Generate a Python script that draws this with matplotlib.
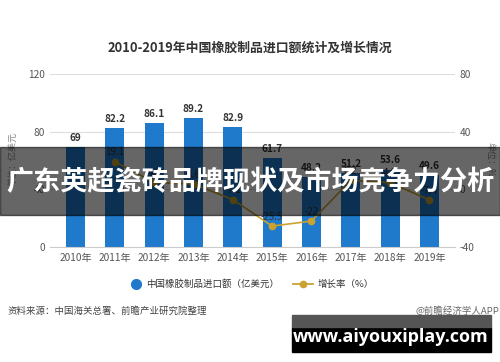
import matplotlib
matplotlib.use("Agg")
import matplotlib.pyplot as plt
from matplotlib.patches import Rectangle

plt.rcParams['font.family'] = ['Noto Sans CJK SC', 'DejaVu Sans']
plt.rcParams['axes.unicode_minus'] = False

years = ["2010年", "2011年", "2012年", "2013年", "2014年", "2015年", "2016年", "2017年", "2018年", "2019年"]
imports = [69, 82.2, 86.1, 89.2, 82.9, 61.7, 48.2, 51.2, 53.6, 49.6]
growth_years = years[1:]
growth = [19.1, 4.8, 3.6, -7.1, -25.5, -22, 6.2, 4.6, -7.4]
growth_labels = ["19.1", "4.8", "3.6", "-7.1", "-25.5", "-22", "6.2", "4.6", "-7.4"]

title = "2010-2019年中国橡胶制品进口额统计及增长情况"
banner = "广东英超瓷砖品牌现状及市场竞争力分析"

bar_color = "#1f7acc"
line_color = "#c9a231"
text_gray = "#555555"

fig = plt.figure(figsize=(5, 3.62), dpi=100)
ax = fig.add_axes([0.10, 0.3177, 0.81, 0.478])
x = list(range(len(years)))
ax.bar(x, imports, width=0.48, color=bar_color, zorder=2)
for xi, v in zip(x, imports):
    ax.text(xi, v + 3, f"{v:g}", ha="center", va="bottom", fontsize=7.2,
            color="#333333", fontweight="bold")
ax.set_ylim(0, 120)
ax.set_yticks([0, 40, 80, 120])
ax.set_xlim(-0.65, len(years) - 0.35)
ax.set_xticks(x)
ax.set_xticklabels(years, fontsize=7.3, color=text_gray)
ax.tick_params(axis="both", length=0, labelsize=7.3, colors=text_gray)
ax.tick_params(axis="x", pad=4)
ax.grid(axis="y", color="#dddddd", linewidth=0.8, zorder=0)
for s in ["top", "right", "left"]:
    ax.spines[s].set_visible(False)
ax.spines["bottom"].set_color("#cccccc")

ax2 = ax.twinx()
gx = [years.index(y) for y in growth_years]
ax2.plot(gx, growth, color=line_color, marker="o", markersize=4.5, linewidth=1.2, zorder=3)
for xi, v, lab in zip(gx, growth, growth_labels):
    ax2.text(xi, v + 3, lab, ha="center", va="bottom", fontsize=7, color="#333333")
ax2.set_ylim(-40, 80)
ax2.set_yticks([-40, 0, 40, 80])
ax2.tick_params(axis="y", length=0, labelsize=7.3, colors=text_gray)
for s in ["top", "right", "left", "bottom"]:
    ax2.spines[s].set_visible(False)

fig.text(0.5, 0.868, title, ha="center", va="center", fontsize=9.3,
         fontweight="bold", color="#333333")
fig.text(0.025, 0.56, "单位：亿美元", rotation=90, ha="center", va="center",
         fontsize=6.5, color="#888888")
fig.text(0.98, 0.56, "单位：%", rotation=270, ha="center", va="center",
         fontsize=6.5, color="#888888")

# legend
fig.lines.append(plt.Line2D([0.272], [0.215], marker="o", markersize=7,
                            color=bar_color, transform=fig.transFigure))
fig.text(0.292, 0.215, "中国橡胶制品进口额（亿美元）", ha="left", va="center",
         fontsize=6.8, color="#333333")
fig.lines.append(plt.Line2D([0.585, 0.625], [0.215, 0.215], marker=None,
                            color=line_color, linewidth=1.3, transform=fig.transFigure))
fig.lines.append(plt.Line2D([0.605], [0.215], marker="o", markersize=4.5,
                            color=line_color, transform=fig.transFigure))
fig.text(0.635, 0.215, "增长率（%）", ha="left", va="center", fontsize=6.8, color="#333333")

fig.text(0.014, 0.14, "资料来源：中国海关总署、前瞻产业研究院整理", ha="left",
         va="center", fontsize=6.8, color="#444444")
fig.text(0.998, 0.14, "@前瞻经济学人APP", ha="right", va="center", fontsize=6.8,
         color="#666666")

# banner overlay
fig.patches.append(Rectangle((0.0, (362 - 215) / 362), 1.0, 68 / 362,
                             transform=fig.transFigure, color="black", alpha=0.6,
                             zorder=10))
fig.text(0.5, (362 - 182) / 362, banner, ha="center", va="center", fontsize=19.5,
         fontweight="bold", color="white", zorder=11)

# url watermark box
fig.patches.append(Rectangle((292 / 500, (362 - 352) / 362), 199 / 500, 25 / 362,
                             transform=fig.transFigure, color="black", zorder=10))
fig.patches.append(Rectangle((292 / 500, (362 - 327) / 362), 199 / 500, 12 / 362,
                             transform=fig.transFigure, color="#555555", zorder=10))
fig.text(391 / 500, (362 - 337) / 362, "www.aiyouxiplay.com", ha="center",
         va="center", fontsize=13, fontweight="bold", color="white", zorder=11,
         family=["Open Sans", "DejaVu Sans"])

fig.savefig("out.png", dpi=100)
